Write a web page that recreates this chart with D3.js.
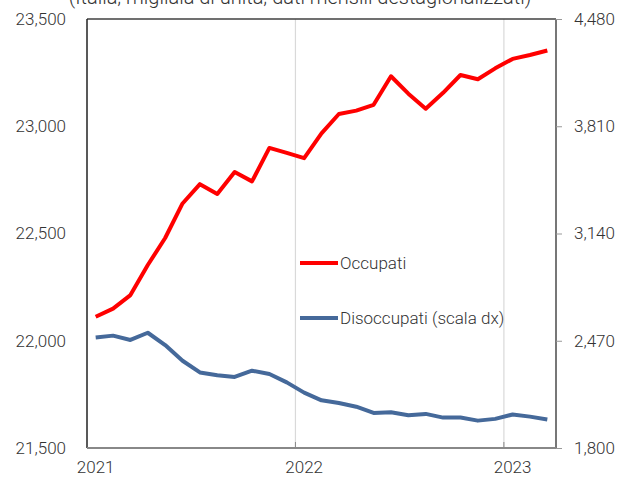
<!DOCTYPE html>
<html>
<head>
<meta charset="utf-8">
<script src="https://cdn.jsdelivr.net/npm/d3@7"></script>
<style>
  body { margin: 0; background: #fff; }
  svg { display: block; font-family: Roboto, "Open Sans", sans-serif; font-weight: 300; }
</style>
</head>
<body>
<div id="chart"></div>
<script>
var months = ["2021-01","2021-02","2021-03","2021-04","2021-05","2021-06","2021-07","2021-08","2021-09","2021-10","2021-11","2021-12",
              "2022-01","2022-02","2022-03","2022-04","2022-05","2022-06","2022-07","2022-08","2022-09","2022-10","2022-11","2022-12",
              "2023-01","2023-02","2023-03"];
var occupati = [22112, 22150, 22213, 22353, 22479, 22640, 22730, 22684, 22787, 22743, 22899, 22876,
                22851, 22967, 23057, 23073, 23100, 23233, 23152, 23082, 23156, 23239, 23219, 23270,
                23314, 23332, 23353];
var disoccupati = [2490, 2502, 2475, 2520, 2443, 2345, 2272, 2255, 2244, 2283, 2262, 2210,
                   2146, 2098, 2081, 2058, 2019, 2023, 2005, 2013, 1990, 1990, 1971, 1982,
                   2009, 1996, 1978];
var leftTicks = [21500, 22000, 22500, 23000, 23500];
var rightTicks = [1800, 2470, 3140, 3810, 4480];
var yearLabels = ["2021-01", "2022-01", "2023-01"];
var titleText = "(Italia; migliaia di unità; dati mensili destagionalizzati)";

var width = 622, height = 482;
var pLeft = 87, pRight = 556, pTop = 19, pBottom = 448;

var svg = d3.select("#chart").append("svg")
    .attr("width", width)
    .attr("height", height);

var x = d3.scaleBand().domain(months).range([pLeft, pRight]).padding(0);
var yL = d3.scaleLinear().domain([21500, 23500]).range([pBottom, pTop]);
var yR = d3.scaleLinear().domain([1800, 4480]).range([pBottom, pTop]);
var cx = function(m) { return x(m) + x.bandwidth() / 2; };

// title (cut at the top like in the source)
svg.append("text")
    .attr("x", 300)
    .attr("y", 4)
    .attr("text-anchor", "middle")
    .attr("font-size", 20)
    .attr("fill", "#333")
    .text(titleText);

// year gridlines
svg.append("g").selectAll("line")
    .data(yearLabels.slice(1))
    .enter().append("line")
    .attr("x1", function(d) { return x(d); })
    .attr("x2", function(d) { return x(d); })
    .attr("y1", pTop)
    .attr("y2", pBottom)
    .attr("stroke", "#d9d9d9")
    .attr("stroke-width", 1.2);

// small ticks on the bottom axis
svg.append("g").selectAll("line")
    .data(yearLabels.slice(1))
    .enter().append("line")
    .attr("x1", function(d) { return x(d); })
    .attr("x2", function(d) { return x(d); })
    .attr("y1", pBottom - 6)
    .attr("y2", pBottom)
    .attr("stroke", "#888")
    .attr("stroke-width", 1);

// frame
svg.append("line").attr("x1", pLeft).attr("x2", pRight).attr("y1", pTop).attr("y2", pTop)
    .attr("stroke", "#404040").attr("stroke-width", 1.5);
svg.append("line").attr("x1", pLeft).attr("x2", pLeft).attr("y1", pTop).attr("y2", pBottom)
    .attr("stroke", "#222").attr("stroke-width", 1.5);
svg.append("line").attr("x1", pRight).attr("x2", pRight).attr("y1", pTop).attr("y2", pBottom)
    .attr("stroke", "#777").attr("stroke-width", 2);
svg.append("line").attr("x1", pLeft).attr("x2", pRight).attr("y1", pBottom).attr("y2", pBottom)
    .attr("stroke", "#888").attr("stroke-width", 2);

var fmt = d3.format(",");

// left axis
var gL = svg.append("g")
    .attr("transform", "translate(" + (pLeft - 21) + ",0)")
    .call(d3.axisLeft(yL).tickValues(leftTicks).tickFormat(fmt).tickSize(0).tickPadding(0));
gL.select(".domain").remove();
gL.selectAll("text").attr("font-size", 17).attr("fill", "#333").attr("font-family", "Roboto");

// right axis
var gR = svg.append("g")
    .attr("transform", "translate(" + pRight + ",0)")
    .call(d3.axisRight(yR).tickValues(rightTicks).tickFormat(fmt).tickSize(6).tickPadding(12));
gR.select(".domain").remove();
gR.selectAll("line").attr("stroke", "#999");
gR.selectAll("text").attr("font-size", 17).attr("fill", "#333").attr("font-family", "Roboto");

// bottom axis labels
var gB = svg.append("g")
    .attr("transform", "translate(0," + pBottom + ")")
    .call(d3.axisBottom(x).tickValues(yearLabels).tickFormat(function(d) { return d.slice(0, 4); }).tickSize(0).tickPadding(13));
gB.select(".domain").remove();
gB.selectAll("text").attr("font-size", 17).attr("fill", "#333").attr("font-family", "Roboto");

// lines
var lineL = d3.line().x(function(d, i) { return cx(months[i]); }).y(function(d) { return yL(d); });
var lineR = d3.line().x(function(d, i) { return cx(months[i]); }).y(function(d) { return yR(d); });

svg.append("path")
    .datum(disoccupati)
    .attr("d", lineR)
    .attr("fill", "none")
    .attr("stroke", "#45699a")
    .attr("stroke-width", 4)
    .attr("stroke-linejoin", "round");

svg.append("path")
    .datum(occupati)
    .attr("d", lineL)
    .attr("fill", "none")
    .attr("stroke", "#ff0000")
    .attr("stroke-width", 4)
    .attr("stroke-linejoin", "round");

// legend
var legend = [
    {name: "Occupati", color: "#ff0000", y: 263},
    {name: "Disoccupati (scala dx)", color: "#45699a", y: 318}
];
var lg = svg.append("g").selectAll("g").data(legend).enter().append("g");
lg.append("line")
    .attr("x1", 300).attr("x2", 338)
    .attr("y1", function(d) { return d.y; }).attr("y2", function(d) { return d.y; })
    .attr("stroke", function(d) { return d.color; })
    .attr("stroke-width", 4);
lg.append("text")
    .attr("x", 340)
    .attr("y", function(d) { return d.y + 6; })
    .attr("font-size", 17)
    .attr("fill", "#333")
    .text(function(d) { return d.name; });
</script>
</body>
</html>
